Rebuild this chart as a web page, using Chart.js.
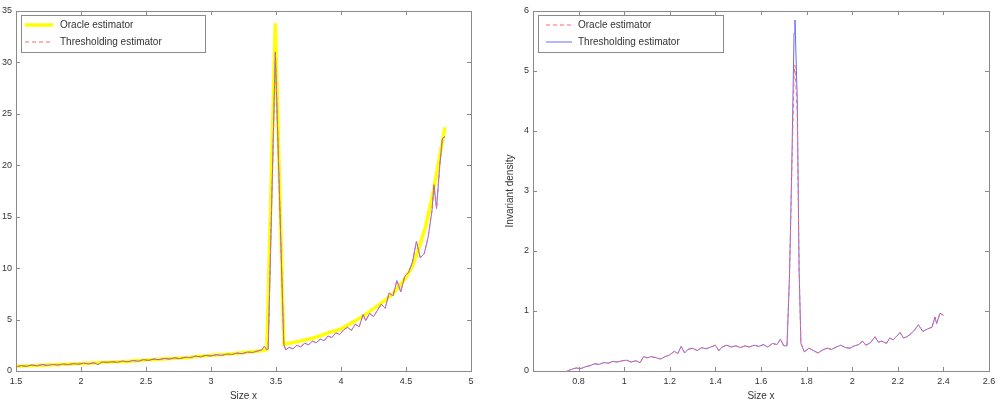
<!DOCTYPE html>
<html>
<head>
<meta charset="utf-8">
<title>Oracle vs thresholding estimator</title>
<script src="https://cdn.jsdelivr.net/npm/chart.js@4"></script>
<style>
  body { margin: 0; background: #fff; width: 1003px; height: 402px; overflow: hidden; }
  .panel { position: absolute; top: 0; height: 402px; }
  #leftPanel { left: 0; width: 500px; }
  #rightPanel { left: 500px; width: 503px; }
</style>
</head>
<body>
<div id="leftPanel" class="panel"><canvas id="leftChart"></canvas></div>
<div id="rightPanel" class="panel"><canvas id="rightChart"></canvas></div>
<script>
// ---- left panel data ----
const leftXTicks = [1.5, 2, 2.5, 3, 3.5, 4, 4.5, 5];
const leftYTicks = [0, 5, 10, 15, 20, 25, 30, 35];

const oracleX = [1.5, 1.6, 1.7, 1.8, 1.9, 2.0, 2.1, 2.2, 2.3, 2.4, 2.5, 2.6, 2.7, 2.8, 2.9, 3.0,
  3.1, 3.2, 3.3, 3.4, 3.43, 3.495, 3.56, 3.6, 3.7, 3.8, 3.9, 4.0, 4.1, 4.2, 4.3, 4.4, 4.5,
  4.55, 4.6, 4.65, 4.7, 4.75, 4.8];
const oracleY = [0.45, 0.5, 0.55, 0.6, 0.65, 0.72, 0.78, 0.84, 0.9, 0.98, 1.07, 1.15, 1.22, 1.3,
  1.4, 1.52, 1.6, 1.72, 1.85, 2.0, 2.1, 33.8, 2.6, 2.7, 2.95, 3.25, 3.7, 4.1, 4.8, 5.6, 6.5,
  7.5, 9.1, 10.2, 12.0, 14.0, 16.8, 20.2, 23.7];

const threshX = [1.50, 1.54, 1.58, 1.62, 1.66, 1.70, 1.74, 1.78, 1.82, 1.86, 1.90, 1.94, 1.98,
  2.02, 2.06, 2.10, 2.13, 2.16, 2.20, 2.24, 2.28, 2.32, 2.36, 2.40, 2.44, 2.48, 2.52, 2.56,
  2.60, 2.64, 2.68, 2.72, 2.76, 2.80, 2.84, 2.88, 2.92, 2.96, 3.00, 3.04, 3.08, 3.12, 3.16,
  3.20, 3.24, 3.28, 3.32, 3.36, 3.39, 3.41, 3.43, 3.44, 3.495, 3.56, 3.575, 3.60, 3.63, 3.66,
  3.69, 3.72, 3.75, 3.78, 3.81, 3.84, 3.87, 3.90, 3.93, 3.96, 3.99, 4.02, 4.05, 4.08, 4.11,
  4.14, 4.17, 4.19, 4.22, 4.25, 4.28, 4.31, 4.34, 4.37, 4.40, 4.43, 4.46, 4.49, 4.52, 4.55,
  4.58, 4.61, 4.64, 4.67, 4.70, 4.715, 4.735, 4.76, 4.78, 4.80];
const threshY = [0.40, 0.52, 0.45, 0.58, 0.50, 0.62, 0.55, 0.64, 0.58, 0.68, 0.62, 0.72, 0.66,
  0.76, 0.70, 0.80, 0.62, 0.88, 0.84, 0.90, 0.85, 0.96, 0.90, 1.02, 0.95, 1.10, 1.03, 1.16,
  1.10, 1.22, 1.16, 1.28, 1.20, 1.34, 1.30, 1.44, 1.38, 1.52, 1.46, 1.58, 1.52, 1.65, 1.60,
  1.74, 1.68, 1.84, 1.80, 1.95, 2.05, 2.40, 2.05, 2.15, 31.0, 2.60, 2.05, 2.30, 2.15, 2.50,
  2.35, 2.70, 2.55, 2.90, 2.75, 3.10, 2.95, 3.40, 3.25, 3.70, 3.55, 4.00, 4.25, 3.95, 4.55,
  4.30, 5.50, 4.90, 5.60, 5.30, 5.90, 6.50, 6.10, 7.60, 7.30, 8.80, 7.70, 9.20, 9.60, 10.60,
  12.60, 11.00, 11.40, 13.00, 15.60, 18.10, 15.80, 20.00, 22.60, 22.80];

// ---- right panel data ----
const rightXTicks = [0.8, 1, 1.2, 1.4, 1.6, 1.8, 2, 2.2, 2.4, 2.6];
const rightYTicks = [0, 1, 2, 3, 4, 5, 6];

const rightX = [0.75, 0.77, 0.79, 0.81, 0.83, 0.85, 0.87, 0.89, 0.91, 0.93, 0.95, 0.97, 0.99,
  1.01, 1.03, 1.05, 1.07, 1.085, 1.10, 1.12, 1.14, 1.16, 1.18, 1.20, 1.22, 1.235, 1.25, 1.265,
  1.28, 1.30, 1.32, 1.34, 1.36, 1.38, 1.40, 1.415, 1.43, 1.45, 1.47, 1.49, 1.51, 1.53, 1.55,
  1.57, 1.59, 1.61, 1.63, 1.65, 1.67, 1.685, 1.70, 1.714, 1.725, 1.735, 1.745, 1.749, 1.759,
  1.767, 1.775, 1.79, 1.81, 1.83, 1.85, 1.87, 1.89, 1.91, 1.93, 1.95, 1.97, 1.99, 2.01, 2.03,
  2.045, 2.06, 2.08, 2.10, 2.115, 2.13, 2.15, 2.165, 2.18, 2.20, 2.21, 2.225, 2.24, 2.26,
  2.275, 2.29, 2.31, 2.33, 2.35, 2.363, 2.37, 2.385, 2.40];
const rightThreshY = [0.00, 0.03, 0.05, 0.04, 0.07, 0.09, 0.12, 0.11, 0.14, 0.13, 0.16, 0.15,
  0.17, 0.18, 0.15, 0.17, 0.14, 0.24, 0.22, 0.24, 0.22, 0.20, 0.24, 0.27, 0.33, 0.29, 0.41,
  0.30, 0.36, 0.38, 0.34, 0.39, 0.37, 0.40, 0.43, 0.34, 0.40, 0.43, 0.40, 0.42, 0.39, 0.42,
  0.40, 0.43, 0.41, 0.44, 0.40, 0.46, 0.44, 0.53, 0.42, 0.42, 1.60, 3.40, 5.63, 5.85, 4.52,
  1.73, 0.46, 0.32, 0.38, 0.34, 0.30, 0.35, 0.38, 0.36, 0.40, 0.43, 0.39, 0.38, 0.42, 0.44,
  0.50, 0.43, 0.47, 0.57, 0.48, 0.50, 0.46, 0.55, 0.52, 0.60, 0.64, 0.55, 0.57, 0.63, 0.69,
  0.77, 0.66, 0.70, 0.73, 0.90, 0.79, 0.96, 0.93];
const rightOracleY = [0.00, 0.03, 0.05, 0.04, 0.07, 0.09, 0.12, 0.11, 0.14, 0.13, 0.16, 0.15,
  0.17, 0.18, 0.15, 0.17, 0.14, 0.24, 0.22, 0.24, 0.22, 0.20, 0.24, 0.27, 0.33, 0.29, 0.41,
  0.30, 0.36, 0.38, 0.34, 0.39, 0.37, 0.40, 0.43, 0.34, 0.40, 0.43, 0.40, 0.42, 0.39, 0.42,
  0.40, 0.43, 0.41, 0.44, 0.40, 0.46, 0.44, 0.53, 0.42, 0.42, 1.55, 3.30, 4.90, 5.10, 4.30,
  1.70, 0.46, 0.32, 0.38, 0.34, 0.30, 0.35, 0.38, 0.36, 0.40, 0.43, 0.39, 0.38, 0.42, 0.44,
  0.50, 0.43, 0.47, 0.57, 0.48, 0.50, 0.46, 0.55, 0.52, 0.60, 0.64, 0.55, 0.57, 0.63, 0.69,
  0.77, 0.66, 0.70, 0.73, 0.90, 0.79, 0.96, 0.93];

const FONT = "'Liberation Sans', Arial, Helvetica, sans-serif";
Chart.defaults.font.family = FONT;
Chart.defaults.color = '#333';

const YELLOW = '#ffff00';
const RED = '#ff6868';
const BLUE = '#6a6aff';
const FRAME = '#8a8a8a';

function toPoints(xs, ys) {
  return xs.map((x, i) => ({ x: x, y: ys[i] }));
}

// matlab style box: full frame, ticks pointing inward, legend box inside the axes
const framePlugin = {
  id: 'frame',
  afterDatasetsDraw(chart, args, opts) {
    const { ctx, chartArea: a, scales } = chart;
    ctx.save();
    ctx.strokeStyle = FRAME;
    ctx.lineWidth = 1;
    ctx.strokeRect(a.left + 0.5, a.top + 0.5, a.right - a.left, a.bottom - a.top);
    ctx.beginPath();
    scales.x.ticks.forEach(t => {
      const px = Math.round(scales.x.getPixelForValue(t.value)) + 0.5;
      ctx.moveTo(px, a.bottom); ctx.lineTo(px, a.bottom - 4);
      ctx.moveTo(px, a.top); ctx.lineTo(px, a.top + 4);
    });
    scales.y.ticks.forEach(t => {
      const py = Math.round(scales.y.getPixelForValue(t.value)) + 0.5;
      ctx.moveTo(a.left, py); ctx.lineTo(a.left + 4, py);
      ctx.moveTo(a.right, py); ctx.lineTo(a.right - 4, py);
    });
    ctx.stroke();

    // legend
    const L = opts.legend;
    ctx.fillStyle = '#fff';
    ctx.fillRect(L.x, L.y, L.w, L.h);
    ctx.strokeRect(L.x + 0.5, L.y + 0.5, L.w, L.h);
    ctx.font = '10px ' + FONT;
    ctx.textBaseline = 'middle';
    let row = 0;
    chart.data.datasets.forEach(ds => {
      if (!ds.label) return;
      const y = L.y + L.rowTop + row * L.rowGap;
      ctx.save();
      ctx.strokeStyle = ds.borderColor;
      ctx.lineWidth = ds.borderWidth;
      ctx.setLineDash(ds.borderDash || []);
      ctx.beginPath();
      ctx.moveTo(L.x + L.lineStart, y);
      ctx.lineTo(L.x + L.lineEnd, y);
      ctx.stroke();
      ctx.restore();
      ctx.fillStyle = '#333';
      ctx.fillText(ds.label, L.x + L.textStart, y);
      row++;
    });
    ctx.restore();
  }
};

function makeScales(cfg) {
  return {
    x: {
      type: 'linear', min: cfg.xMin, max: cfg.xMax,
      afterBuildTicks: s => { s.ticks = cfg.xTicks.map(v => ({ value: v })); },
      afterFit: s => { s.height = 31; },
      grid: { display: false, drawTicks: false },
      border: { display: false },
      ticks: { padding: 5, font: { size: 9 }, maxRotation: 0, autoSkip: false, callback: v => String(v) },
      title: { display: true, text: 'Size x', font: { size: 10 }, padding: { top: 0, bottom: 0 } }
    },
    y: {
      type: 'linear', min: cfg.yMin, max: cfg.yMax,
      afterBuildTicks: s => { s.ticks = cfg.yTicks.map(v => ({ value: v })); },
      afterFit: s => { s.width = cfg.yWidth; },
      grid: { display: false, drawTicks: false },
      border: { display: false },
      ticks: { padding: 4, font: { size: 9 }, autoSkip: false, callback: v => String(v) },
      title: { display: !!cfg.yTitle, text: cfg.yTitle || '', font: { size: 10 }, padding: { top: 4, bottom: 0 } }
    }
  };
}

new Chart(document.getElementById('leftChart'), {
  type: 'line',
  data: {
    datasets: [
      { label: 'Oracle estimator', data: toPoints(oracleX, oracleY), borderColor: YELLOW, borderWidth: 3.5, order: 3 },
      { label: 'Thresholding estimator', data: toPoints(threshX, threshY), borderColor: RED, borderWidth: 1, borderDash: [4, 3], order: 1 },
      { label: '', data: toPoints(threshX, threshY), borderColor: BLUE, borderWidth: 1, order: 2 }
    ]
  },
  options: {
    responsive: true, maintainAspectRatio: false, animation: false,
    parsing: false,
    elements: { point: { radius: 0 }, line: { tension: 0 } },
    layout: { padding: { top: 11, right: 29, left: 0, bottom: 0 } },
    scales: makeScales({ xMin: 1.5, xMax: 5, xTicks: leftXTicks, yMin: 0, yMax: 35, yTicks: leftYTicks, yWidth: 16 }),
    plugins: {
      legend: { display: false },
      tooltip: { enabled: false },
      frame: { legend: { x: 21, y: 15, w: 184, h: 37, rowTop: 10, rowGap: 17, lineStart: 4, lineEnd: 32, textStart: 39 } }
    }
  },
  plugins: [framePlugin]
});

new Chart(document.getElementById('rightChart'), {
  type: 'line',
  data: {
    datasets: [
      { label: 'Oracle estimator', data: toPoints(rightX, rightOracleY), borderColor: RED, borderWidth: 1, borderDash: [4, 3], order: 1 },
      { label: 'Thresholding estimator', data: toPoints(rightX, rightThreshY), borderColor: BLUE, borderWidth: 1, order: 2 }
    ]
  },
  options: {
    responsive: true, maintainAspectRatio: false, animation: false,
    parsing: false,
    elements: { point: { radius: 0 }, line: { tension: 0 } },
    layout: { padding: { top: 11, right: 14, left: 0, bottom: 0 } },
    scales: makeScales({ xMin: 0.6, xMax: 2.6, xTicks: rightXTicks, yMin: 0, yMax: 6, yTicks: rightYTicks, yWidth: 33, yTitle: 'Invariant density' }),
    plugins: {
      legend: { display: false },
      tooltip: { enabled: false },
      frame: { legend: { x: 38, y: 15, w: 185, h: 37, rowTop: 10, rowGap: 17, lineStart: 8, lineEnd: 34, textStart: 40 } }
    }
  },
  plugins: [framePlugin]
});
</script>
</body>
</html>
